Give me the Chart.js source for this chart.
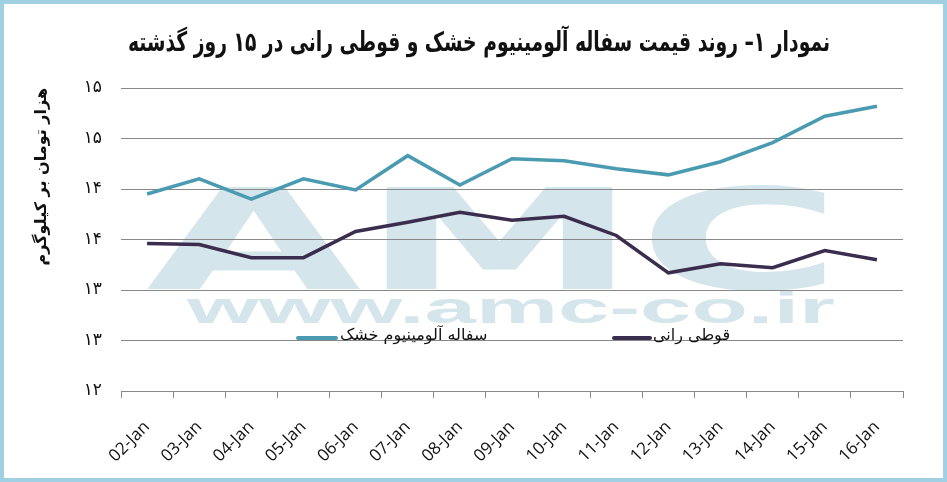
<!DOCTYPE html>
<html>
<head>
<meta charset="utf-8">
<script src="https://cdn.jsdelivr.net/npm/chart.js@4.4.0/dist/chart.umd.min.js"></script>
<style>
    body { margin: 0; background: #ffffff; }
    #wrap { width: 947px; height: 482px; position: relative; }
</style>
</head>
<body>
<div id="wrap"><canvas id="priceChart" width="947" height="482"></canvas></div>
<script>
// days on the x axis
const dates = ['02-Jan', '03-Jan', '04-Jan', '05-Jan', '06-Jan', '07-Jan', '08-Jan', '09-Jan',
    '10-Jan', '11-Jan', '12-Jan', '13-Jan', '14-Jan', '15-Jan', '16-Jan'];

// dry aluminium scrap (thousand toman / kg), teal
const dryAluminium = [13.95, 14.10, 13.90, 14.10, 13.99, 14.33, 14.04, 14.30, 14.28, 14.20, 14.14, 14.27, 14.46, 14.72, 14.82];

// scrap cans, dark purple
const canScrap = [13.46, 13.45, 13.32, 13.32, 13.58, 13.67, 13.77, 13.69, 13.73, 13.54, 13.17, 13.26, 13.22, 13.39, 13.30];

// y axis range
const yMin = 12;
const yMax = 15;
const yStep = 0.5;

const seriesNames = ['سفاله آلومینیوم خشک', 'قوطی رانی'];
const chartTitle = 'نمودار ۱– روند قیمت سفاله آلومینیوم خشک و قوطی رانی در ۱۵ روز گذشته';
const yTitle = 'هزار تومان بر کیلوگرم';

const faDigits = '۰۱۲۳۴۵۶۷۸۹';
function toPersian(n) {
    return String(n).replace(/[0-9]/g, d => faDigits[d]);
}

const persianFont = "'DejaVu Sans', sans-serif";

//background watermark, title, legend and frame
const decorPlugin = {
    id: 'decor',
    beforeDraw(chart) {
        const ctx = chart.ctx;
        ctx.save();
        ctx.fillStyle = '#ffffff';
        ctx.fillRect(0, 0, chart.width, chart.height);

        ctx.fillStyle = '#d4e5eb';
        ctx.textAlign = 'left';
        ctx.textBaseline = 'alphabetic';

        // big AMC letters
        ctx.font = "bold 140px 'DejaVu Sans', sans-serif";
        let w = ctx.measureText('AMC').width;
        ctx.save();
        ctx.translate(146, 289);
        ctx.scale(696 / w, 1);
        ctx.fillText('AMC', 0, 0);
        ctx.restore();

        // site address
        ctx.font = "bold 45px 'Liberation Sans', Arial, sans-serif";
        w = ctx.measureText('www.amc-co.ir').width;
        ctx.save();
        ctx.translate(187, 323);
        ctx.scale(648 / w, 1);
        ctx.fillText('www.amc-co.ir', 0, 0);
        ctx.restore();

        ctx.restore();
    },
    afterDraw(chart) {
        const ctx = chart.ctx;
        ctx.save();

        // condensed bold title
        ctx.fillStyle = '#111111';
        ctx.font = 'bold 27px ' + persianFont;
        ctx.textAlign = 'center';
        ctx.textBaseline = 'middle';
        const tw = ctx.measureText(chartTitle).width;
        ctx.save();
        ctx.translate(479, 44);
        ctx.scale(Math.min(1, 702 / tw), 1);
        ctx.fillText(chartTitle, 0, 0);
        ctx.restore();

        // legend inside plot
        const items = [
            { x1: 298, x2: 336, tx: 340 },
            { x1: 614, x2: 650, tx: 653 }
        ];
        chart.data.datasets.forEach((ds, i) => {
            const it = items[i];
            ctx.strokeStyle = ds.borderColor;
            ctx.lineWidth = 4;
            ctx.lineCap = 'round';
            ctx.beginPath();
            ctx.moveTo(it.x1, 338);
            ctx.lineTo(it.x2, 338);
            ctx.stroke();
            ctx.fillStyle = '#111111';
            ctx.font = '16px ' + persianFont;
            ctx.textAlign = 'left';
            ctx.textBaseline = 'middle';
            ctx.fillText(ds.label, it.tx, 336);
        });

        // light blue frame
        ctx.strokeStyle = '#a0d0e2';
        ctx.lineWidth = 4;
        ctx.strokeRect(2, 2, chart.width - 4, chart.height - 4);
        ctx.restore();
    }
};

var ctx = document.getElementById('priceChart').getContext('2d');
const priceChart = new Chart(ctx, {
    type: 'line',
    data: {
        labels: dates,
        datasets: [
            {
                label: seriesNames[0], //teal
                data: dryAluminium,
                borderColor: '#4a9bb1',
                borderWidth: 3.5,
                pointRadius: 0,
                tension: 0,
                fill: false
            },
            {
                label: seriesNames[1], //purple
                data: canScrap,
                borderColor: '#3a2d4d',
                borderWidth: 3.5,
                pointRadius: 0,
                tension: 0,
                fill: false
            }
        ]
    },
    options: {
        responsive: false,
        animation: false,
        devicePixelRatio: 1,
        layout: {
            padding: { left: 12, right: 44, top: 88, bottom: 0 }
        },
        plugins: {
            legend: { display: false },
            tooltip: { enabled: false },
            title: { display: false }
        },
        scales: {
            x: {
                offset: true,
                afterFit(scale) { scale.height = 91; },
                grid: {
                    display: true,
                    offset: true,
                    drawOnChartArea: false,
                    drawTicks: true,
                    tickLength: 7,
                    color: '#888888'
                },
                border: { display: true, color: '#888888', width: 1 },
                ticks: {
                    minRotation: 45,
                    maxRotation: 45,
                    autoSkip: false,
                    padding: 19,
                    color: '#111111',
                    font: { family: "'Open Sans', sans-serif", size: 17 }
                }
            },
            y: {
                min: yMin,
                max: yMax,
                afterFit(scale) { scale.width = 121 - 12; },
                grid: { color: '#888888', lineWidth: 1, drawTicks: false },
                border: { display: false },
                ticks: {
                    stepSize: yStep,
                    padding: 19,
                    color: '#111111',
                    font: { family: persianFont, size: 17 },
                    callback: v => toPersian(Math.round(v))
                },
                title: {
                    display: true,
                    text: yTitle,
                    align: 'end',
                    color: '#111111',
                    font: { family: persianFont, size: 16, weight: 'bold', lineHeight: 1.2 },
                    padding: { top: 20, bottom: 0 }
                }
            }
        }
    },
    plugins: [decorPlugin]
});
</script>
</body>
</html>
